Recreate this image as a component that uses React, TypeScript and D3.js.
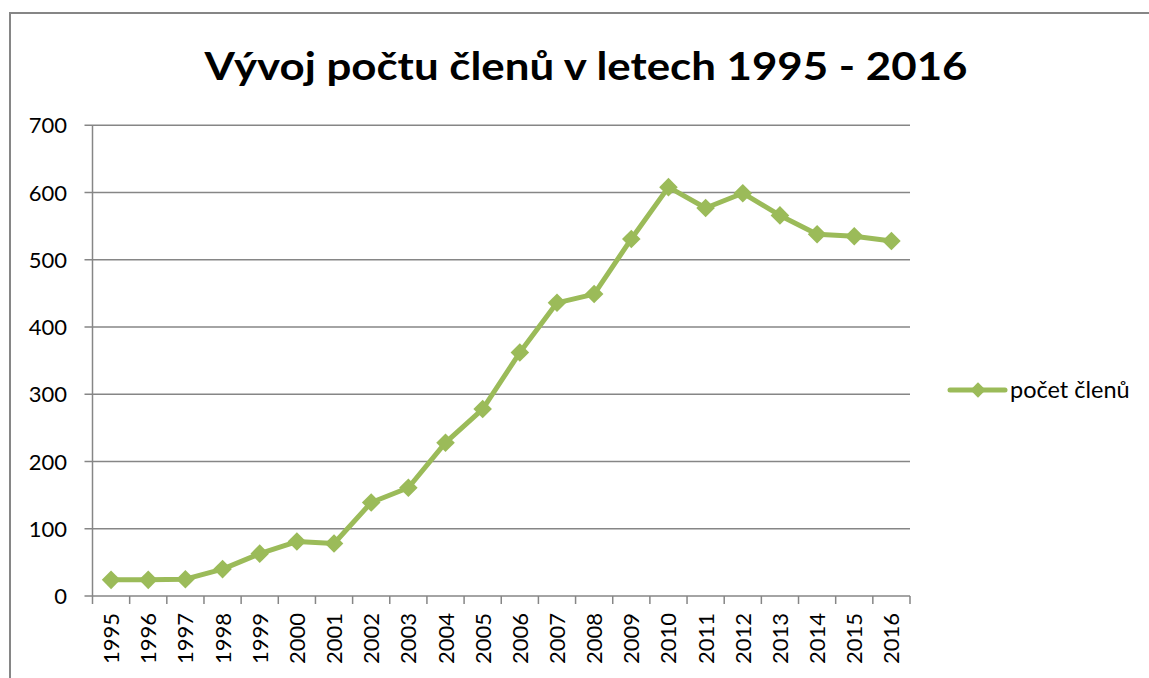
import { useEffect, useRef } from "react";
import * as d3 from "d3";

const years = [
  "1995", "1996", "1997", "1998", "1999", "2000", "2001", "2002", "2003", "2004", "2005",
  "2006", "2007", "2008", "2009", "2010", "2011", "2012", "2013", "2014", "2015", "2016",
];
const members = [
  24, 24, 25, 40, 63, 81, 78, 139, 161, 228, 278,
  362, 436, 449, 531, 608, 577, 599, 566, 538, 535, 528,
];
const yTicks = [0, 100, 200, 300, 400, 500, 600, 700];
const title = "Vývoj počtu členů v letech 1995 - 2016";
const seriesName = "počet členů";

const green = "#9bbb59";
const grid = "#868686";
const font = "Lato, 'Open Sans', sans-serif";

const App = () => {
  const ref = useRef<SVGSVGElement | null>(null);

  useEffect(() => {
    if (!ref.current) return;
    const svg = d3.select(ref.current);
    svg.selectAll("*").remove();

    const left = 92.5, right = 910, top = 125.3, bottom = 596;

    const x = d3.scaleBand().domain(years).range([left, right]);
    const y = d3.scaleLinear().domain([0, 700]).range([bottom, top]);

    // chart border (runs off the right and bottom edges)
    svg.append("rect")
      .attr("x", 10).attr("y", 13)
      .attr("width", 1200).attr("height", 700)
      .attr("fill", "white")
      .attr("stroke", grid).attr("stroke-width", 2);

    svg.append("text")
      .attr("x", 586).attr("y", 80)
      .attr("text-anchor", "middle")
      .attr("font-family", font)
      .attr("font-weight", "bold")
      .attr("font-size", 39)
      .attr("textLength", 763)
      .attr("lengthAdjust", "spacingAndGlyphs")
      .text(title);

    // gridlines + y labels
    const g = svg.append("g");
    g.selectAll("line.grid")
      .data(yTicks)
      .join("line")
      .attr("x1", left - 8).attr("x2", right)
      .attr("y1", (d) => y(d)).attr("y2", (d) => y(d))
      .attr("stroke", grid).attr("stroke-width", 1.5);

    g.selectAll("text.ylab")
      .data(yTicks)
      .join("text")
      .attr("x", 67).attr("y", (d) => y(d) + 8)
      .attr("text-anchor", "end")
      .attr("font-family", font)
      .attr("font-size", 22)
      .text((d) => d);

    // y axis line
    g.append("line")
      .attr("x1", left).attr("x2", left)
      .attr("y1", top).attr("y2", bottom)
      .attr("stroke", grid).attr("stroke-width", 1.5);

    // x ticks at band edges
    const edges = years.map((d) => x(d)!).concat([right]);
    g.selectAll("line.xt")
      .data(edges)
      .join("line")
      .attr("x1", (d) => d).attr("x2", (d) => d)
      .attr("y1", bottom).attr("y2", bottom + 8)
      .attr("stroke", grid).attr("stroke-width", 1.5);

    g.selectAll("text.xlab")
      .data(years)
      .join("text")
      .attr("transform", (d) => `translate(${x(d)! + x.bandwidth() / 2 + 8},${bottom + 17}) rotate(-90)`)
      .attr("text-anchor", "end")
      .attr("font-family", font)
      .attr("font-size", 22)
      .text((d) => d);

    const cx = (i: number) => x(years[i])! + x.bandwidth() / 2;

    const line = d3.line<number>()
      .x((_, i) => cx(i))
      .y((d) => y(d));

    svg.append("path")
      .datum(members)
      .attr("d", line)
      .attr("fill", "none")
      .attr("stroke", green)
      .attr("stroke-width", 5)
      .attr("stroke-linejoin", "round");

    const diamond = d3.symbol(d3.symbolDiamond2, 220);
    svg.selectAll("path.pt")
      .data(members)
      .join("path")
      .attr("transform", (d, i) => `translate(${cx(i)},${y(d)})`)
      .attr("d", diamond)
      .attr("fill", green);

    // legend
    svg.append("line")
      .attr("x1", 950).attr("x2", 1005)
      .attr("y1", 390).attr("y2", 390)
      .attr("stroke", green).attr("stroke-width", 5)
      .attr("stroke-linecap", "round");
    svg.append("path")
      .attr("transform", "translate(978,390)")
      .attr("d", d3.symbol(d3.symbolDiamond2, 150))
      .attr("fill", green);
    svg.append("text")
      .attr("x", 1010).attr("y", 398)
      .attr("font-family", font)
      .attr("font-size", 23.5)
      .text(seriesName);
  }, []);

  return (
    <svg
      ref={ref}
      width={1149}
      height={678}
      style={{ position: "absolute", left: 0, top: 0, display: "block" }}
    />
  );
};

export default App;
